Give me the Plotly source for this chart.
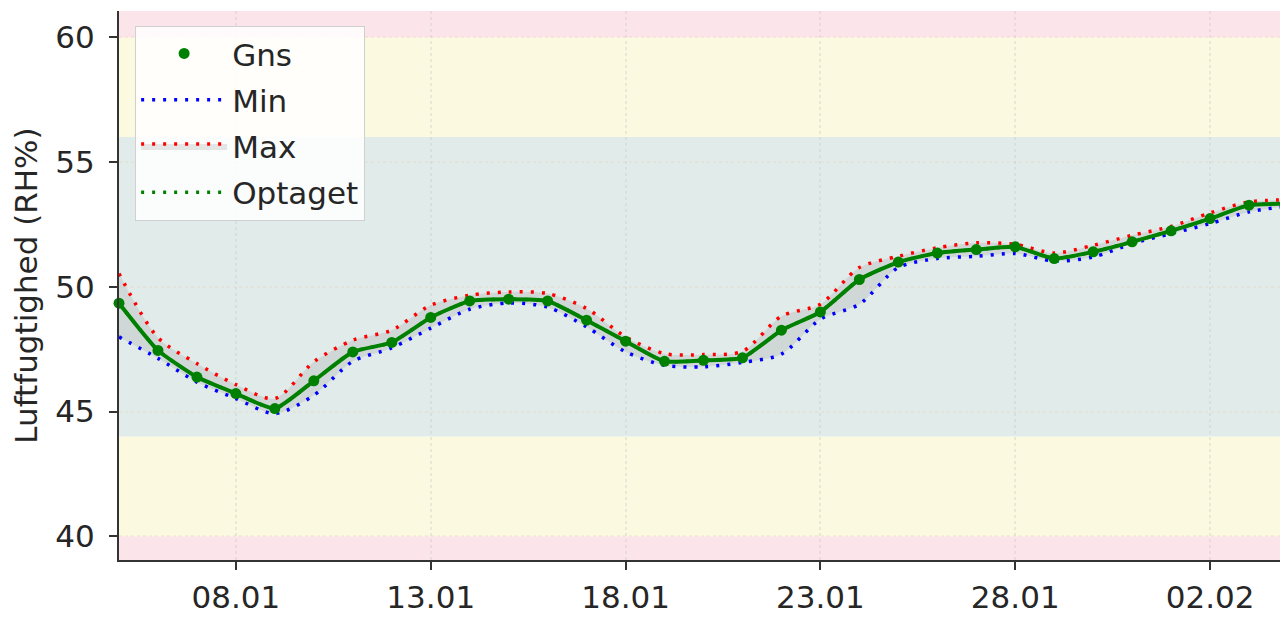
import plotly.graph_objects as go
import pandas as pd

dates = pd.date_range("2024-01-05", "2024-02-04", freq="D")

gns = [49.34, 47.45, 46.38, 45.72, 45.12, 46.23, 47.39, 47.77, 48.77, 49.43,
       49.50, 49.43, 48.66, 47.82, 47.01, 47.05, 47.15, 48.26, 48.99, 50.29,
       50.99, 51.35, 51.49, 51.60, 51.13, 51.40, 51.80, 52.24, 52.73, 53.27, 53.33]
rh_min = [47.99, 47.13, 46.18, 45.52, 44.92, 45.65, 47.01, 47.55, 48.34, 49.10,
          49.35, 49.18, 48.39, 47.39, 46.85, 46.79, 46.97, 47.30, 48.70, 49.30,
          50.77, 51.13, 51.22, 51.33, 51.03, 51.19, 51.73, 52.13, 52.53, 53.00, 53.23]
rh_max = [50.53, 47.96, 46.92, 46.08, 45.52, 46.99, 47.86, 48.26, 49.26, 49.66,
          49.79, 49.73, 49.13, 47.99, 47.32, 47.28, 47.41, 48.82, 49.30, 50.77,
          51.22, 51.56, 51.76, 51.70, 51.35, 51.66, 52.06, 52.42, 52.96, 53.40, 53.48]
optaget = gns

tick_dates = ["2024-01-08", "2024-01-13", "2024-01-18", "2024-01-23", "2024-01-28", "2024-02-02"]
tick_labels = ["08.01", "13.01", "18.01", "23.01", "28.01", "02.02"]
y_ticks = [40, 45, 50, 55, 60]

bands = [  # (y0, y1, colour)
    (39.0, 40.0, "#fbe4ea"),
    (40.0, 44.0, "#fbf9df"),
    (44.0, 56.0, "#e1ecea"),
    (56.0, 60.0, "#fbf9df"),
    (60.0, 61.1, "#fbe4ea"),
]

FONT = "DejaVu Sans"
FS = 31
DOT = "3px,8px"

fig = go.Figure()

fig.add_trace(go.Scatter(x=dates, y=rh_min, name="Min", mode="lines",
                         line=dict(color="blue", width=3.5, dash=DOT, shape="spline", smoothing=0.8),
                         legendrank=2, legendgroup="b"))
fig.add_trace(go.Scatter(x=dates, y=rh_max, name="Max", mode="lines",
                         line=dict(color="red", width=3.5, dash=DOT, shape="spline", smoothing=0.8),
                         fill="tonexty", fillcolor="rgba(140,140,140,0.2)",
                         legendrank=3, legendgroup="c"))
fig.add_trace(go.Scatter(x=dates, y=optaget, name="Optaget", mode="lines",
                         line=dict(color="green", width=3.5, dash=DOT, shape="spline", smoothing=0.5),
                         legendrank=4, legendgroup="d"))
fig.add_trace(go.Scatter(x=dates, y=gns, name="Gns", mode="lines", showlegend=False,
                         line=dict(color="green", width=4, shape="spline", smoothing=0.5)))
fig.add_trace(go.Scatter(x=dates, y=gns, name="Gns", mode="markers", cliponaxis=False,
                         marker=dict(color="green", size=11),
                         legendrank=1, legendgroup="a"))

for y0, y1, c in bands:
    fig.add_shape(type="rect", xref="paper", x0=0, x1=1, yref="y", y0=y0, y1=y1,
                  fillcolor=c, line=dict(width=0), layer="below")

fig.update_layout(
    width=1280, height=609,
    margin=dict(l=111, r=0, t=3, b=57),
    paper_bgcolor="white", plot_bgcolor="white",
    font=dict(family=FONT, size=FS, color="#262626"),
    showlegend=True,
    legend=dict(x=0.0138, y=0.973, xanchor="left", yanchor="top",
                bgcolor="rgba(255,255,255,0.85)", bordercolor="#d0d0d0", borderwidth=1,
                font=dict(family=FONT, size=FS, color="#262626"),
                itemwidth=86, tracegroupgap=3, traceorder="grouped"),
    xaxis=dict(range=["2024-01-05", "2024-02-04"], tickvals=tick_dates, ticktext=tick_labels,
               automargin=False,
               showgrid=True, gridcolor="rgba(200,200,200,0.35)", griddash="dot", gridwidth=1.5,
               showline=True, linecolor="#333333", linewidth=2, zeroline=False,
               ticks="outside", ticklen=8, tickwidth=1.5, tickcolor="#333333",
               ticklabelstandoff=1),
    yaxis=dict(range=[39.05, 61.05], tickvals=y_ticks, automargin=False,
               showgrid=True, gridcolor="rgba(230,200,170,0.25)", griddash="dot", gridwidth=1.5,
               showline=True, linecolor="#333333", linewidth=2, zeroline=False,
               ticks="outside", ticklen=8, tickwidth=1.5, tickcolor="#333333",
               ticklabelstandoff=8,
               title=dict(text="Luftfugtighed (RH%)", standoff=14,
                          font=dict(family=FONT, size=FS, color="#262626"))),
)

fig.write_html("out.html")
